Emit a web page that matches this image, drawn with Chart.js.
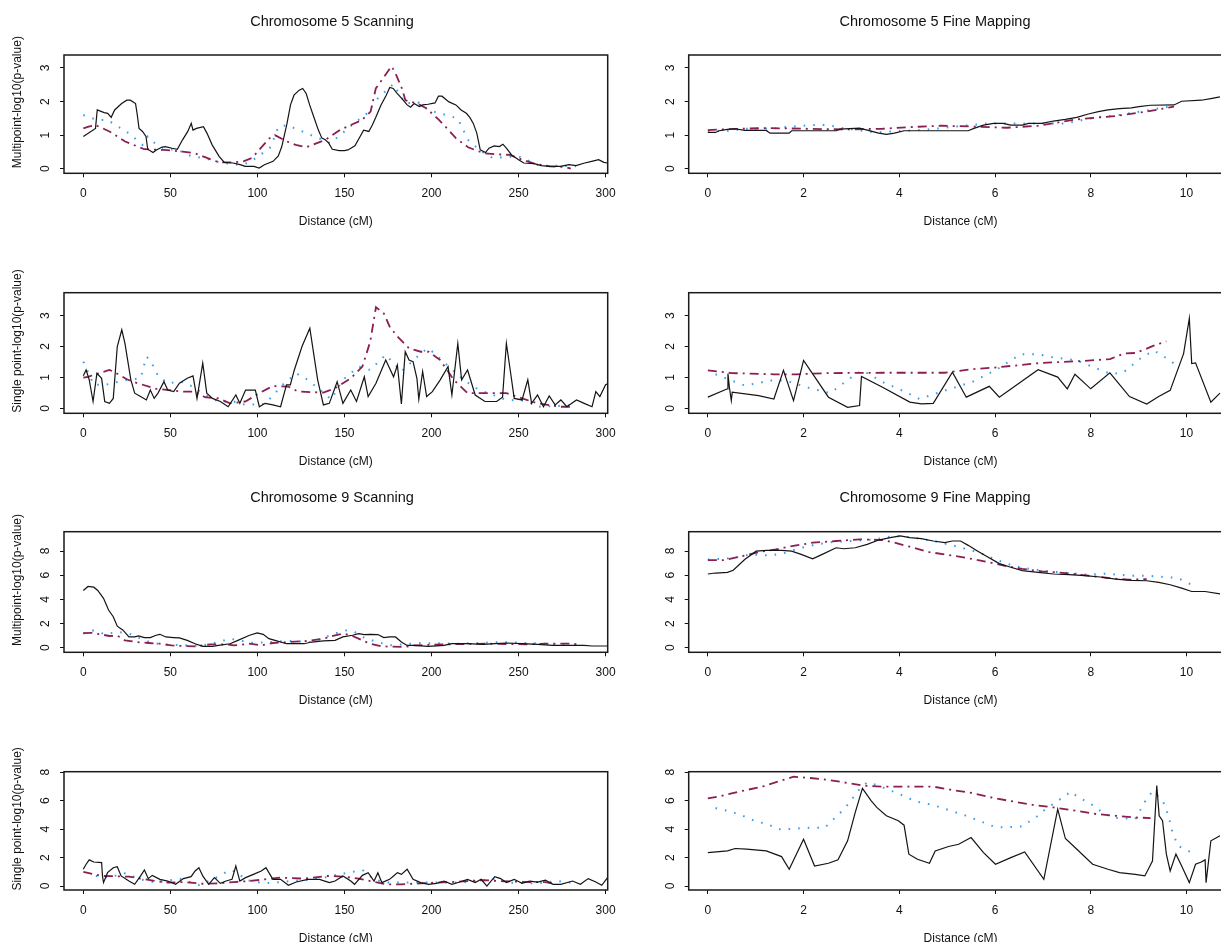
<!DOCTYPE html>
<html>
<head>
<meta charset="utf-8">
<title>Chromosome 5 and 9 scans</title>
<style>
  html, body { margin: 0; padding: 0; background: #fff; }
  body { width: 1221px; height: 942px; overflow: hidden; position: relative; }
  canvas { position: absolute; }
</style>
</head>
<body>
<script src="https://cdn.jsdelivr.net/npm/chart.js@4.4.1/dist/chart.umd.min.js"></script>
<script>
'use strict';

// ---- text ----
const titles = ['Chromosome 5 Scanning', 'Chromosome 5 Fine Mapping', 'Chromosome 9 Scanning', 'Chromosome 9 Fine Mapping'];
const yLabels = ['Multipoint-log10(p-value)', 'Single point-log10(p-value)'];
const xTitle = 'Distance (cM)';

// ---- tick labels ----
const scanTicks = [0, 50, 100, 150, 200, 250, 300];
const fineTicks = [0, 2, 4, 6, 8, 10];
const lowTicks = [0, 1, 2, 3];
const highTicks = [0, 2, 4, 6, 8];

// ---- chromosome 5, scanning, multipoint ----
const s5mAx = [0,7,8,12,14,16,18,22,25,27,30,31,32,34,36,37,40,42,45,47,51,54,57,60,62,63,65,69,71,74,78,81,86,90,93,98,101,104,109,112,114,117,119,121,124,126,128,130,132,135,137,139,141,143,147,150,152,156,159,161,164,166,168,171,174,176,178,180,183,186,188,190,193,195,198,202,204,206,210,214,217,220,222,224,226,228,231,233,236,239,241,243,246,250,253,259,263,268,274,279,283,288,292,296,299,301];
const s5mAy = [0.96,1.20,1.75,1.67,1.65,1.53,1.75,1.94,2.04,2.04,1.94,1.60,1.20,1.11,0.96,0.58,0.48,0.56,0.64,0.66,0.61,0.58,0.86,1.11,1.35,1.15,1.20,1.25,1.06,0.71,0.37,0.19,0.17,0.12,0.07,0.07,0.02,0.12,0.22,0.38,0.66,1.35,1.90,2.19,2.34,2.39,2.24,1.90,1.60,1.15,0.91,0.86,0.76,0.58,0.54,0.54,0.56,0.68,0.96,1.15,1.11,1.30,1.53,1.90,2.19,2.42,2.39,2.26,2.09,1.90,1.83,1.94,1.85,1.90,1.92,1.96,2.16,2.16,1.99,1.90,1.75,1.65,1.53,1.35,1.06,0.56,0.48,0.61,0.68,0.66,0.73,0.61,0.41,0.27,0.17,0.15,0.09,0.07,0.07,0.12,0.09,0.17,0.22,0.27,0.19,0.17];
const s5mBx = [0,3,7,15,24,35,46,57,64,71,78,87,92,97,101,107,110,117,122,128,139,148,160,165,168,177,179,183,185,192,197,204,208,214,221,224,230,237,245,252,259,268,277,280];
const s5mBy = [1.20,1.25,1.30,1.11,0.81,0.58,0.56,0.51,0.46,0.32,0.19,0.19,0.22,0.32,0.56,0.91,1.00,0.81,0.71,0.64,0.86,1.17,1.45,1.70,2.39,3.05,2.88,2.39,2.04,1.94,1.80,1.47,1.25,0.91,0.64,0.58,0.46,0.43,0.41,0.27,0.15,0.07,0.05,0.00];
const s5mCx = [0,8,14,17,26,34,37,43,47,55,62,69,78,89,95,107,110,112,117,142,155,163,168,178,185,192,198,215,221,228,235,250,262,272,283];
const s5mCy = [1.60,1.45,1.45,1.35,1.06,0.71,0.96,0.66,0.61,0.54,0.37,0.32,0.19,0.12,0.17,0.61,0.96,1.25,1.30,0.76,1.33,1.65,2.04,2.52,1.94,1.99,1.75,1.50,0.86,0.54,0.32,0.37,0.09,0.09,0.07];

// ---- chromosome 5, fine mapping, multipoint ----
const f5mAx = [0,0.16,0.24,0.41,0.57,0.77,1.22,1.30,1.70,1.75,2.68,2.76,3.17,3.33,3.57,3.73,3.90,4.10,5.44,5.56,5.76,5.97,6.17,6.33,6.57,6.70,6.98,7.22,7.47,7.71,7.95,8.16,8.36,8.60,8.85,9.01,9.25,9.74,9.90,10.31,10.51,10.70];
const f5mAy = [1.08,1.08,1.13,1.17,1.19,1.14,1.14,1.06,1.06,1.13,1.13,1.18,1.21,1.15,1.06,1.02,1.06,1.13,1.13,1.20,1.30,1.35,1.35,1.30,1.30,1.35,1.35,1.42,1.47,1.53,1.63,1.70,1.75,1.79,1.81,1.85,1.89,1.90,2.01,2.04,2.09,2.14];
const f5mBx = [0,0.65,1.22,2.03,2.84,3.65,4.38,4.87,5.68,6.25,6.90,7.71,8.52,9.17,9.74];
const f5mBy = [1.15,1.19,1.21,1.19,1.17,1.19,1.25,1.28,1.25,1.22,1.28,1.47,1.57,1.70,1.85];
const f5mCx = [0,0.41,0.81,1.38,1.70,2.19,2.52,2.84,3.49,3.81,4.30,4.71,5.11,5.52,5.84,6.49,6.90,7.47,8.12,8.60,9.74];
const f5mCy = [1.13,1.13,1.19,1.20,1.25,1.30,1.30,1.20,1.08,1.11,1.14,1.18,1.25,1.30,1.35,1.35,1.35,1.35,1.53,1.60,1.87];

// ---- chromosome 5, scanning, single point ----
const s5sAx = [0,1.6,3.4,5.6,7.8,10.5,12.3,15,17.2,19.5,22.1,23.9,27.3,29.5,32.9,36.2,38.5,40.7,42.9,46.3,48.5,51.9,55.2,59.7,63,65.3,68.6,70.9,74.2,78.7,83.2,87.6,89.9,93.2,98.8,101.1,104.4,108.9,113.3,116.7,118.9,121.2,125.6,130.1,134.6,137.9,141.3,145.8,149.1,153.6,156.9,161.4,163.6,168.1,173.7,178.2,180.4,182.7,184.9,187.1,189.4,191.6,192.7,194.9,197.2,200.5,205,209.5,211.7,215.1,217.3,220.7,225.1,230.7,237.4,240.8,243,245.2,247.5,252,255.3,257.5,260.9,264.3,267.6,271,274.3,277.7,283.3,287.7,292.2,294.4,296.7,300,301.5];
const s5sAy = [1.05,1.24,0.92,0.22,1.13,0.97,0.22,0.16,0.32,2.0,2.54,2.10,0.92,0.49,0.38,0.27,0.59,0.32,0.49,0.86,0.59,0.54,0.81,0.97,1.05,0.32,1.46,0.49,0.32,0.22,0.05,0.43,0.16,0.59,0.59,0.05,0.16,0.11,0.05,0.76,0.76,1.24,2.0,2.59,0.92,0.11,0.16,0.86,0.16,0.59,0.22,1.02,0.38,0.81,1.56,1.02,1.40,0.14,1.83,1.56,1.51,0.97,0.29,1.19,0.38,0.54,0.92,1.35,0.43,2.10,0.92,1.24,0.43,0.22,0.22,0.36,2.10,1.24,0.32,0.27,0.92,0.16,0.43,0.05,0.40,0.11,0.27,0.05,0.27,0.16,0.05,0.54,0.38,0.76,0.80];
const s5sBx = [0,2.7,15,17.2,25,28.4,41.8,57.5,64.2,69.8,77.6,84.3,93.2,101,108.9,117.8,123.4,137.9,144.6,153.6,160.3,164.8,168.1,172.6,176,180.4,187.1,193.8,198.3,205,212.8,220.7,230.7,243,252,260.9,274.3,281];
const s5sBy = [0.99,1.02,1.24,1.19,0.94,0.86,0.63,0.54,0.54,0.36,0.32,0.16,0.22,0.49,0.72,0.70,0.54,0.51,0.65,0.97,1.35,2.16,3.27,3.07,2.64,2.32,1.94,1.83,1.83,1.56,0.92,0.49,0.49,0.49,0.32,0.16,0.05,0.05];
const s5sCx = [0,6,12.7,25,32.9,36.2,38.5,42.9,48.5,56.3,63,69.8,77.6,86.5,93.2,104.4,114.5,122.3,129,142.4,149.1,158.1,164.8,173.7,182.7,194.9,198.3,218.4,227.4,234.1,243,254.2,260.9,274.3,283.3];
const s5sCy = [1.51,0.76,0.76,0.92,0.97,1.67,1.56,1.05,0.81,0.86,0.70,0.43,0.22,0.22,0.11,0.14,0.76,1.13,0.92,0.29,0.92,1.35,1.24,1.73,1.19,1.83,1.94,0.92,0.59,0.46,0.27,0.25,0.05,0.08,0.11];

// ---- chromosome 5, fine mapping, single point ----
const f5sAx = [0,0.41,0.42,0.45,0.49,0.51,1.06,1.38,1.58,1.79,2.0,2.52,2.92,3.17,3.21,3.65,4.22,4.46,4.71,5.11,5.40,5.88,6.09,6.90,7.31,7.51,7.67,8.00,8.40,8.81,9.17,9.42,9.66,9.94,10.06,10.11,10.19,10.51,10.70];
const f5sAy = [0.36,0.63,1.12,0.68,0.25,0.52,0.41,0.30,1.23,0.25,1.55,0.36,0.03,0.09,1.03,0.68,0.20,0.14,0.16,1.17,0.36,0.71,0.36,1.25,1.01,0.63,1.10,0.63,1.15,0.38,0.14,0.38,0.58,1.77,2.91,1.45,1.47,0.20,0.49];
const f5sBx = [0,0.49,1.38,1.87,2.52,3.65,4.95,5.48,6.01,6.98,7.83,8.40,8.69,8.93,9.17,9.29,9.58];
const f5sBy = [1.23,1.14,1.10,1.10,1.14,1.15,1.15,1.26,1.32,1.47,1.53,1.59,1.77,1.79,1.93,2.01,2.17];
const f5sCx = [0.16,0.49,0.77,1.10,1.26,1.62,2.11,2.56,2.96,3.23,3.65,3.98,4.14,4.42,4.75,5.07,5.52,6.01,6.53,6.90,7.18,7.71,8.04,8.44,8.69,9.09,9.33,9.54,9.66,9.82];
const f5sCy = [1.10,0.90,0.74,0.83,0.90,0.90,0.66,0.49,0.96,1.23,0.85,0.63,0.52,0.30,0.47,0.63,0.85,1.23,1.75,1.75,1.66,1.55,1.34,1.10,1.17,1.68,1.86,1.66,1.55,1.34];

// ---- chromosome 9, scanning, multipoint ----
const s9mAx = [0,2.7,6,8.3,11.6,14.5,17.2,19.5,22.8,26.2,29.5,31.7,35.1,38.5,41.8,44,47.4,51.9,55.2,59.7,64.2,68.6,74.2,77.6,84.3,88.8,95.5,99.9,103.3,106.6,111.1,116.7,126.8,131.2,137.9,144.6,149.1,154.7,158.1,161.4,164.8,169.2,172.6,175.9,179.3,182.7,186,189.4,198.3,207.2,211.7,220.7,229.6,236.3,243,252,260.9,269.8,276.5,287.7,292.2,301];
const s9mAy = [4.74,5.07,5.01,4.74,4.09,3.12,2.56,1.78,1.45,0.89,0.89,0.97,0.84,0.84,1.03,1.11,0.89,0.84,0.81,0.61,0.33,0.11,0.11,0.19,0.33,0.61,1.03,1.23,1.11,0.75,0.56,0.33,0.33,0.47,0.56,0.61,0.89,1.03,1.17,1.09,1.11,1.09,0.84,0.89,0.89,0.47,0.19,0.19,0.11,0.19,0.33,0.33,0.28,0.33,0.39,0.33,0.28,0.19,0.19,0.19,0.14,0.14];
const s9mBx = [0,4.9,10.5,15,19.5,23.9,30.6,37.3,44,50.7,57.5,64.2,73.1,82,86.5,95.5,102.2,108.9,117.8,129,137.9,144.6,149.1,153.6,158.1,164.8,171.5,184.9,189.4,209.5,231.8,254.2,265.4,278.8,285.5];
const s9mBy = [1.20,1.23,1.09,0.97,1.0,0.61,0.47,0.39,0.33,0.19,0.14,0.11,0.28,0.28,0.19,0.33,0.19,0.39,0.47,0.56,0.75,1.03,1.17,1.03,0.75,0.33,0.11,0.06,0.19,0.28,0.33,0.28,0.33,0.33,0.28];
const s9mCx = [0,4.9,12.7,19.5,26.2,32.9,39.6,46.3,59.7,68.6,77.6,84.3,91,97.7,117.8,131.2,144.6,151.4,155.8,160.3,167,175.9,193.8,216.2,240.8,265.4,278.8];
const s9mCy = [1.17,1.45,1.11,1.31,1.17,0.75,0.39,0.28,0.19,0.19,0.47,0.75,0.56,0.39,0.56,0.47,1.17,1.45,1.31,0.89,0.56,0.19,0.39,0.33,0.47,0.33,0.19];

// ---- chromosome 9, fine mapping, multipoint ----
const f9mAx = [0,0.16,0.41,0.53,0.77,1.01,1.22,1.54,1.75,1.95,2.19,2.39,2.68,2.84,3.08,3.33,3.57,3.81,4.02,4.22,4.46,4.71,4.95,5.11,5.28,5.44,5.64,5.84,6.09,6.33,6.57,6.90,7.22,7.55,7.87,8.20,8.52,8.85,9.17,9.42,9.66,9.90,10.11,10.39,10.70];
const f9mAy = [6.10,6.18,6.24,6.41,7.30,7.99,8.05,8.05,7.99,7.72,7.35,7.72,8.27,8.19,8.27,8.55,8.91,9.11,9.25,9.11,9.03,8.83,8.69,8.83,8.83,8.47,7.99,7.52,6.96,6.66,6.38,6.24,6.10,6.04,5.96,5.85,5.68,5.57,5.54,5.40,5.21,4.93,4.65,4.65,4.46];
const f9mBx = [0,0.32,0.65,1.06,1.42,1.70,2.19,2.68,3.17,3.65,3.90,4.22,4.63,5.11,5.52,5.93,6.25,6.57,6.98,7.47,7.95,8.36,8.77,9.17];
const f9mBy = [7.24,7.24,7.52,7.91,8.13,8.36,8.69,8.83,8.97,8.91,8.69,8.36,7.91,7.63,7.35,7.02,6.74,6.52,6.32,6.18,5.96,5.77,5.63,5.68];
const f9mCx = [0,0.32,0.65,0.89,1.30,1.62,1.95,2.27,2.60,3.00,3.49,3.90,4.30,4.71,5.03,5.44,5.68,6.01,6.41,6.74,7.14,7.55,7.95,8.28,8.85,9.17,9.82,10.11];
const f9mCy = [7.30,7.35,7.52,7.72,7.63,7.86,8.27,8.55,8.75,8.83,8.97,9.25,9.11,8.83,8.55,8.13,7.86,7.30,6.74,6.52,6.32,6.18,6.04,6.13,5.96,5.96,5.77,5.21];

// ---- chromosome 9, scanning, single point ----
const s9sAx = [0,1.6,3.4,6,10.5,11,11.6,13.9,17.2,19.5,21.7,26.2,29.5,32.9,35.1,37.3,39.6,44,48.5,53,57.5,61.9,64.2,66.4,68.6,72,75.3,78.7,82,85.4,87.6,89.9,93.2,97.7,102.2,104.9,108.9,113.3,117.8,122.3,129,135.7,141.3,144.6,149.1,153.6,155.8,160.3,163.6,167,169.2,171.5,175.9,178.2,180.4,182.7,186,189.4,193.8,198.3,202.8,207.2,211.7,216.2,220.7,225.1,228.5,231.8,236.3,239.7,243,247.5,252,256.4,260.9,265.4,269.8,274.3,281,285.5,290,294.4,297.8,301.1];
const s9sAy = [1.18,1.53,1.84,1.69,1.65,0.71,0.24,0.94,1.29,1.36,0.71,0.35,0.12,0.71,1.13,0.52,0.75,0.47,0.35,0.12,0.52,0.66,1.06,1.29,0.71,0.12,0.59,0.19,0.35,0.47,1.41,0.35,0.59,0.82,1.06,1.29,0.47,0.47,0.05,0.28,0.47,0.47,0.24,0.35,0.71,0.35,0.12,0.75,0.94,0.35,0.94,0.24,0.47,0.71,0.94,0.82,1.18,0.47,0.24,0.12,0.19,0.35,0.12,0.28,0.47,0.24,0.47,0.0,0.66,0.52,0.24,0.47,0.19,0.35,0.28,0.42,0.12,0.12,0.35,0.12,0.52,0.28,0.05,0.59];
const s9sBx = [0,10.5,26.2,32.9,41.8,48.5,57.5,68.6,77.6,86.5,95.5,104.4,113.3,126.8,140.2,149.1,158.1,164.8,173.7,182.7,193.8,202.8,211.7,220.7,229.6,238.5,247.5,256.4,265.4,269.8];
const s9sBy = [0.99,0.71,0.66,0.52,0.35,0.24,0.28,0.16,0.19,0.28,0.35,0.47,0.59,0.52,0.71,0.66,0.52,0.35,0.12,0.12,0.19,0.24,0.28,0.35,0.42,0.35,0.31,0.28,0.28,0.16];
const s9sCx = [7.2,13.9,23.9,32.9,41.8,55.2,66.4,75.3,84.3,88.8,93.2,104.4,126.8,135.7,146.9,160.3,167,173.7,193.8,216.2,227.4,236.3,243,260.9,272.1,283.3];
const s9sCy = [0.71,0.59,0.89,0.47,0.24,0.52,0.07,0.52,1.13,0.94,0.42,0.19,0.42,0.52,0.82,1.13,0.47,0.24,0.24,0.24,0.35,0.52,0.24,0.19,0.35,0.19];

// ---- chromosome 9, fine mapping, single point ----
const f9sAx = [0,0.41,0.57,0.81,1.22,1.54,1.70,2.00,2.23,2.52,2.72,2.92,3.08,3.23,3.41,3.53,3.73,3.98,4.10,4.20,4.38,4.63,4.75,5.03,5.24,5.50,5.76,6.01,6.33,6.62,7.02,7.31,7.47,7.71,8.04,8.36,8.60,8.93,9.13,9.29,9.38,9.43,9.50,9.58,9.66,9.78,9.90,10.06,10.19,10.31,10.39,10.41,10.51,10.70];
const f9sAy = [2.35,2.47,2.64,2.59,2.47,2.07,1.18,3.29,1.41,1.60,1.84,3.18,5.18,6.87,6.00,5.53,4.94,4.59,4.28,2.24,1.88,1.60,2.47,2.78,2.94,3.41,2.35,1.53,2.00,2.40,0.47,5.41,3.34,2.59,1.53,1.18,0.94,0.82,0.71,1.76,7.06,4.94,4.59,2.24,1.06,2.24,1.41,0.24,1.53,1.69,1.84,0.24,3.18,3.53];
const f9sBx = [0,0.24,0.65,1.14,1.46,1.79,2.19,2.52,2.84,3.25,3.65,4.71,5.11,5.52,6.01,6.41,6.82,7.22,7.71,8.12,8.52,8.93,9.25];
const f9sBy = [6.16,6.31,6.64,6.99,7.34,7.69,7.58,7.46,7.29,7.06,6.99,6.99,6.75,6.54,6.16,5.93,5.69,5.53,5.29,5.06,4.94,4.82,4.78];
const f9sCx = [0.16,0.41,0.65,0.97,1.30,1.46,1.62,2.11,2.44,2.76,2.88,3.17,3.33,3.57,3.81,3.98,4.14,4.38,4.71,5.36,5.52,5.97,6.17,6.57,6.74,6.90,6.98,7.59,7.71,8.04,8.20,8.44,8.93,9.17,9.29,9.50,9.62,9.70,9.82,9.98,10.11];
const f9sCy = [5.48,5.29,5.06,4.59,4.28,4.00,4.00,4.09,4.09,5.13,5.53,6.82,7.29,7.06,6.71,6.52,6.24,5.93,5.69,4.99,4.78,4.19,4.12,4.19,4.59,4.94,5.22,6.64,6.31,5.69,5.29,4.82,4.71,6.16,6.64,6.05,4.99,3.88,2.82,2.59,2.35];

// ---- page layout (pixels) ----
const rowBox = [[55, 173.3], [292.7, 413.3], [531.7, 652.3], [771.7, 890]];
const colBox = [[64, 607.7], [688.7, 1232.4]];
const canvasLeft = [0, 620];
const canvasWidth = [650, 640];
const titleCenter = [332, 935];
const yAxisWidth = 64;
const yLabelShift = -12;

// axis limits (R adds 4% around the data)
const xLimits = [[-11.1, 301.2], [-0.40, 10.96]];
const yLimits = [[-0.137, 3.387], [-0.162, 3.74], [-0.38, 9.60], [-0.28, 8.04]];
const xTickSets = [scanTicks, fineTicks];
const yTickSets = [lowTicks, lowTicks, highTicks, highTicks];

const lineStyles = [
  {color: '#141414', width: 1.2, dash: []},
  {color: '#8c1f52', width: 1.8, dash: [9, 5, 2, 5]},
  {color: '#3a9cf0', width: 2, dash: [1.6, 8]}
];

const panels = [
  {row: 0, col: 0, title: titles[0], yLabel: yLabels[0], series: [[s5mAx, s5mAy], [s5mBx, s5mBy], [s5mCx, s5mCy]]},
  {row: 0, col: 1, title: titles[1], yLabel: '', series: [[f5mAx, f5mAy], [f5mBx, f5mBy], [f5mCx, f5mCy]]},
  {row: 1, col: 0, title: '', yLabel: yLabels[1], series: [[s5sAx, s5sAy], [s5sBx, s5sBy], [s5sCx, s5sCy]]},
  {row: 1, col: 1, title: '', yLabel: '', series: [[f5sAx, f5sAy], [f5sBx, f5sBy], [f5sCx, f5sCy]]},
  {row: 2, col: 0, title: titles[2], yLabel: yLabels[0], series: [[s9mAx, s9mAy], [s9mBx, s9mBy], [s9mCx, s9mCy]]},
  {row: 2, col: 1, title: titles[3], yLabel: '', series: [[f9mAx, f9mAy], [f9mBx, f9mBy], [f9mCx, f9mCy]]},
  {row: 3, col: 0, title: '', yLabel: yLabels[1], series: [[s9sAx, s9sAy], [s9sBx, s9sBy], [s9sCx, s9sCy]]},
  {row: 3, col: 1, title: '', yLabel: '', series: [[f9sAx, f9sAy], [f9sBx, f9sBy], [f9sCx, f9sCy]]}
];

const FONT = '"Liberation Sans", Arial, Helvetica, sans-serif';
Chart.defaults.font.family = FONT;
Chart.defaults.color = '#111';

// box round the plot, panel title and left-hand axis label, R style
const rFrame = {
  id: 'rFrame',
  afterDraw(chart, args, opts) {
    const {ctx, chartArea: a} = chart;
    ctx.save();
    ctx.strokeStyle = '#1a1a1a';
    ctx.lineWidth = 1.5;
    ctx.strokeRect(a.left, a.top, a.right - a.left, a.bottom - a.top);
    ctx.fillStyle = '#111';
    ctx.textAlign = 'center';
    ctx.textBaseline = 'middle';
    if (opts.title) {
      ctx.font = '14.5px ' + FONT;
      ctx.fillText(opts.title, opts.titleX, a.top - 33.4);
    }
    if (opts.yLabel) {
      ctx.font = '12px ' + FONT;
      ctx.translate(18, (a.top + a.bottom) / 2 + yLabelShift);
      ctx.rotate(-Math.PI / 2);
      ctx.fillText(opts.yLabel, 0, 0);
    }
    ctx.restore();
  }
};

panels.forEach(p => {
  const [boxTop, boxBottom] = rowBox[p.row];
  const [boxLeft, boxRight] = colBox[p.col];
  const cl = canvasLeft[p.col];
  const cw = canvasWidth[p.col];
  const ct = Math.floor(boxTop) - 50;
  const pt = boxTop - ct;
  const boxH = boxBottom - boxTop;
  const ch = Math.ceil(pt + boxH + 60);
  const hx = ch - pt - boxH;

  const canvas = document.createElement('canvas');
  canvas.width = cw;
  canvas.height = ch;
  canvas.style.left = cl + 'px';
  canvas.style.top = ct + 'px';
  canvas.style.width = cw + 'px';
  canvas.style.height = ch + 'px';
  document.body.appendChild(canvas);

  const datasets = p.series.map(([xs, ys], i) => ({
    data: xs.map((x, j) => ({x: x, y: ys[j]})),
    borderColor: lineStyles[i].color,
    borderWidth: lineStyles[i].width,
    borderDash: lineStyles[i].dash,
    pointRadius: 0,
    fill: false,
    tension: 0
  }));

  new Chart(canvas, {
    type: 'line',
    data: {datasets: datasets},
    plugins: [rFrame],
    options: {
      responsive: false,
      animation: false,
      devicePixelRatio: 1,
      events: [],
      layout: {padding: {left: boxLeft - cl - yAxisWidth, right: cl + cw - boxRight, top: pt, bottom: 0}},
      scales: {
        x: {
          type: 'linear',
          min: xLimits[p.col][0],
          max: xLimits[p.col][1],
          afterBuildTicks: s => { s.ticks = xTickSets[p.col].map(v => ({value: v})); },
          afterFit: s => { s.height = hx; },
          grid: {drawOnChartArea: false, drawTicks: true, tickLength: 4, color: '#111'},
          border: {display: false},
          ticks: {autoSkip: false, maxRotation: 0, padding: 9.5, font: {size: 12}, color: '#111', callback: v => String(v)},
          title: {display: true, text: xTitle, font: {size: 12}, color: '#111', padding: {top: 0, bottom: hx - 55.6}}
        },
        y: {
          type: 'linear',
          min: yLimits[p.row][0],
          max: yLimits[p.row][1],
          afterBuildTicks: s => { s.ticks = yTickSets[p.row].map(v => ({value: v})); },
          afterFit: s => { s.width = yAxisWidth; },
          grid: {drawOnChartArea: false, drawTicks: true, tickLength: 4, color: '#111'},
          border: {display: false},
          ticks: {autoSkip: false, minRotation: 90, maxRotation: 90, crossAlign: 'center', padding: 10.5, font: {size: 12}, color: '#111', callback: v => String(v)}
        }
      },
      plugins: {
        legend: {display: false},
        tooltip: {enabled: false},
        rFrame: {title: p.title, titleX: titleCenter[p.col] - cl, yLabel: p.yLabel}
      }
    }
  });
});
</script>
</body>
</html>
